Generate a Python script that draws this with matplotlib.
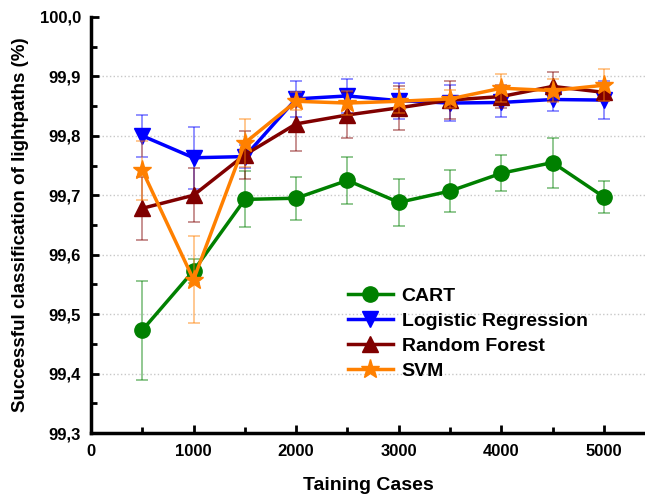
import matplotlib
matplotlib.use('Agg')
import matplotlib.pyplot as plt
from matplotlib.ticker import MultipleLocator, FuncFormatter

plt.rcParams['font.family'] = ['Liberation Sans', 'DejaVu Sans']
plt.rcParams['font.weight'] = 'bold'

cases = [500, 1000, 1500, 2000, 2500, 3000, 3500, 4000, 4500, 5000]

cart = [99.473, 99.573, 99.693, 99.695, 99.725, 99.688, 99.707, 99.737, 99.755, 99.697]
cart_err = [0.083, 0.02, 0.047, 0.036, 0.039, 0.04, 0.035, 0.03, 0.042, 0.027]

logreg = [99.800, 99.763, 99.765, 99.862, 99.867, 99.859, 99.855, 99.856, 99.861, 99.860]
logreg_err = [0.035, 0.052, 0.02, 0.03, 0.028, 0.03, 0.03, 0.025, 0.02, 0.032]

rf = [99.678, 99.700, 99.768, 99.820, 99.835, 99.847, 99.860, 99.866, 99.883, 99.873]
rf_err = [0.053, 0.045, 0.04, 0.045, 0.038, 0.037, 0.032, 0.02, 0.024, 0.015]

svm = [99.742, 99.558, 99.788, 99.858, 99.855, 99.858, 99.862, 99.880, 99.876, 99.885]
svm_err = [0.05, 0.073, 0.04, 0.015, 0.02, 0.02, 0.015, 0.024, 0.02, 0.027]

series = [
    ('CART', cart, cart_err, 'green', 'o', 11),
    ('Logistic Regression', logreg, logreg_err, 'blue', 'v', 12),
    ('Random Forest', rf, rf_err, '#800000', '^', 12),
    ('SVM', svm, svm_err, '#ff8000', '*', 14),
]

fig = plt.figure(figsize=(6.45, 4.95), dpi=100)
ax = fig.add_axes([0.141, 0.125, 0.859, 0.841])

for name, vals, err, col, mk, ms in series:
    ax.errorbar(cases, vals, yerr=err, fmt='none', ecolor=col, alpha=0.5,
                elinewidth=1.2, capsize=4, capthick=1.2)
    ax.plot(cases, vals, color=col, marker=mk, markersize=ms, linewidth=2.5,
            label=name)

ax.set_xlim(0, 5400)
ax.set_ylim(99.3, 100.0)
ax.xaxis.set_major_locator(MultipleLocator(1000))
ax.xaxis.set_minor_locator(MultipleLocator(500))
ax.yaxis.set_major_locator(MultipleLocator(0.1))
ax.yaxis.set_minor_locator(MultipleLocator(0.05))
ax.yaxis.set_major_formatter(FuncFormatter(lambda v, p: ('%.1f' % v).replace('.', ',')))

ax.spines['top'].set_visible(False)
ax.spines['right'].set_visible(False)
ax.spines['left'].set_linewidth(2.5)
ax.spines['bottom'].set_linewidth(2.5)
ax.tick_params(which='major', direction='in', length=6, width=2, labelsize=12)
ax.tick_params(axis='x', which='major', pad=8)
ax.tick_params(axis='y', which='major', pad=7)
ax.tick_params(which='minor', direction='in', length=4, width=2)

for yv in [99.4, 99.5, 99.6, 99.7, 99.8, 99.9]:
    ax.axhline(yv, color='#c8c8c8', linestyle=':', linewidth=1, zorder=0)

ax.set_xlabel('Taining Cases', fontsize=14, fontweight='bold', labelpad=13)
ax.set_ylabel('Successful classification of lightpaths (%)', fontsize=13.5,
              fontweight='bold', labelpad=8)

ax.legend(loc='lower left', bbox_to_anchor=(0.45, 0.11), frameon=False,
          fontsize=14, handlelength=2.3, handletextpad=0.45,
          labelspacing=0.37, borderaxespad=0)

fig.savefig('out.png', dpi=100)
